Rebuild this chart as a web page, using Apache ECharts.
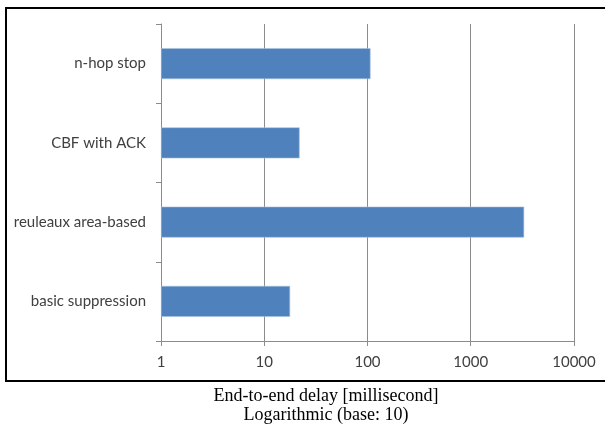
<!DOCTYPE html>
<html>
<head>
<meta charset="utf-8">
<script src="https://cdn.jsdelivr.net/npm/echarts@6/dist/echarts.min.js"></script>
<style>
  html, body { margin: 0; padding: 0; background: #fff; }
  #chart { width: 605px; height: 428px; }
</style>
</head>
<body>
<div id="chart"></div>
<script>
// Flooding schemes compared by end-to-end delay (ms, log scale)
var schemes = ['n-hop stop', 'CBF with ACK', 'reuleaux area-based', 'basic suppression'];
var delays = [107, 22, 3290, 17.8];
var axisTicks = [1, 10, 100, 1000, 10000];
var captionLines = ['End-to-end delay [millisecond]', 'Logarithmic (base: 10)'];

var gridColor = '#8c8c8c';
var labelColor = '#404040';
var labelFont = 'Lato';

var chart = echarts.init(document.getElementById('chart'), null, { renderer: 'canvas' });

chart.setOption({
  animation: false,
  backgroundColor: '#fff',
  grid: { left: 161, right: 31, top: 24, bottom: 87, containLabel: false },
  xAxis: {
    type: 'log',
    logBase: 10,
    min: axisTicks[0],
    max: axisTicks[axisTicks.length - 1],
    axisLine: { show: true, lineStyle: { color: gridColor, width: 1 } },
    axisTick: { show: true, inside: false, length: 5, lineStyle: { color: gridColor } },
    splitLine: { show: true, lineStyle: { color: gridColor, width: 1 } },
    axisLabel: {
      margin: 14,
      color: labelColor,
      fontFamily: labelFont,
      fontSize: 15,
      formatter: function (v) { return String(Math.round(v)); }
    }
  },
  yAxis: {
    type: 'category',
    inverse: true,
    data: schemes,
    axisLine: { show: true, lineStyle: { color: gridColor, width: 1 } },
    axisTick: { show: true, inside: false, length: 5, lineStyle: { color: gridColor } },
    splitLine: { show: false },
    axisLabel: {
      margin: 15,
      color: labelColor,
      fontFamily: labelFont,
      fontSize: 15
    }
  },
  series: [{
    type: 'bar',
    data: delays,
    barWidth: 31,
    itemStyle: { color: '#4f81bd', borderColor: '#a9c2e0', borderWidth: 0.6 }
  }],
  graphic: [
    {
      type: 'rect',
      shape: { x: 6, y: 8, width: 640, height: 373 },
      style: { fill: 'none', stroke: '#000', lineWidth: 2 },
      silent: true
    },
    {
      type: 'text',
      x: 326, y: 396,
      style: {
        text: captionLines[0],
        fill: '#000',
        font: '18px "Liberation Serif"',
        textAlign: 'center',
        textVerticalAlign: 'middle'
      }
    },
    {
      type: 'text',
      x: 326, y: 415,
      style: {
        text: captionLines[1],
        fill: '#000',
        font: '18px "Liberation Serif"',
        textAlign: 'center',
        textVerticalAlign: 'middle'
      }
    }
  ]
});
</script>
</body>
</html>
